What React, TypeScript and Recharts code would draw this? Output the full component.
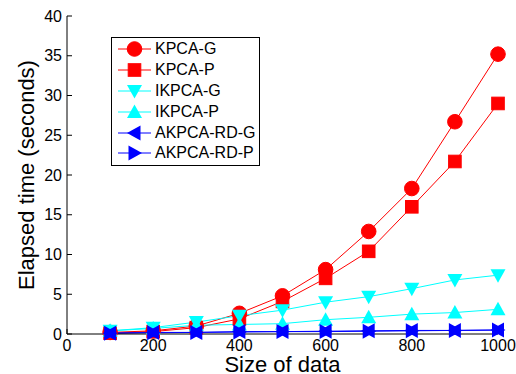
import { LineChart, Line, XAxis, YAxis, Legend } from 'recharts';

const sizes = [100, 200, 300, 400, 500, 600, 700, 800, 900, 1000];
const kpcaG = [0.2, 0.4, 1.0, 2.6, 4.8, 8.1, 12.9, 18.3, 26.7, 35.2];
const kpcaP = [0.1, 0.3, 0.8, 1.9, 4.1, 7.0, 10.4, 16.0, 21.7, 29.0];
const ikpcaG = [0.4, 0.8, 1.5, 2.3, 3.0, 4.0, 4.7, 5.7, 6.8, 7.4];
const ikpcaP = [0.4, 0.7, 1.1, 1.2, 1.3, 1.8, 2.1, 2.5, 2.7, 3.1];
const akpcaG = [0.1, 0.2, 0.2, 0.3, 0.3, 0.35, 0.4, 0.45, 0.45, 0.5];
const akpcaP = [0.1, 0.15, 0.2, 0.25, 0.3, 0.3, 0.35, 0.4, 0.45, 0.5];

const xTicks = [0, 200, 400, 600, 800, 1000];
const yTicks = [0, 5, 10, 15, 20, 25, 30, 35, 40];

const FONT = '"Liberation Sans", Arial, sans-serif';

type Shape = 'circle' | 'square' | 'down' | 'up' | 'left' | 'right';

const series: { key: string; name: string; color: string; shape: Shape }[] = [
  { key: 'kpcaG', name: 'KPCA-G', color: '#ff0000', shape: 'circle' },
  { key: 'kpcaP', name: 'KPCA-P', color: '#ff0000', shape: 'square' },
  { key: 'ikpcaG', name: 'IKPCA-G', color: '#00ffff', shape: 'down' },
  { key: 'ikpcaP', name: 'IKPCA-P', color: '#00ffff', shape: 'up' },
  { key: 'akpcaG', name: 'AKPCA-RD-G', color: '#0000ff', shape: 'left' },
  { key: 'akpcaP', name: 'AKPCA-RD-P', color: '#0000ff', shape: 'right' },
];

const data = sizes.map((n, i) => ({
  n,
  kpcaG: kpcaG[i],
  kpcaP: kpcaP[i],
  ikpcaG: ikpcaG[i],
  ikpcaP: ikpcaP[i],
  akpcaG: akpcaG[i],
  akpcaP: akpcaP[i],
}));

const Marker = ({ cx, cy, shape, color }: { cx: number; cy: number; shape: Shape; color: string }) => {
  if (cx == null || cy == null) return null;
  const s = 7.5;
  switch (shape) {
    case 'circle':
      return <circle cx={cx} cy={cy} r={7.3} fill={color} stroke={color} />;
    case 'square':
      return <rect x={cx - 6.3} y={cy - 6.3} width={12.6} height={12.6} fill={color} stroke={color} />;
    case 'down':
      return <path d={`M${cx - s},${cy - s * 0.8}L${cx + s},${cy - s * 0.8}L${cx},${cy + s}Z`} fill={color} />;
    case 'up':
      return <path d={`M${cx - s},${cy + s * 0.8}L${cx + s},${cy + s * 0.8}L${cx},${cy - s}Z`} fill={color} />;
    case 'left':
      return <path d={`M${cx + s * 0.8},${cy - s}L${cx + s * 0.8},${cy + s}L${cx - s},${cy}Z`} fill={color} />;
    default:
      return <path d={`M${cx - s * 0.8},${cy - s}L${cx - s * 0.8},${cy + s}L${cx + s},${cy}Z`} fill={color} />;
  }
};

const LegendBox = () => (
  <div
    style={{
      width: 147,
      height: 125,
      border: '1.5px solid #000',
      background: '#fff',
      padding: '1px 0',
      boxSizing: 'content-box',
    }}
  >
    {series.map((s) => (
      <div key={s.key} style={{ display: 'flex', alignItems: 'center', height: 20.8 }}>
        <svg width={37} height={20} style={{ flex: 'none', marginLeft: 6 }}>
          <line x1={0} y1={10} x2={33} y2={10} stroke={s.color} strokeWidth={1} />
          <Marker cx={16.5} cy={10} shape={s.shape} color={s.color} />
        </svg>
        <span style={{ fontFamily: FONT, fontSize: 16, color: '#000', whiteSpace: 'nowrap' }}>{s.name}</span>
      </div>
    ))}
  </div>
);

export default function App() {
  return (
    <div style={{ position: 'absolute', left: 0, top: 0, background: '#fff' }}>
      <LineChart width={516} height={374} data={data} margin={{ top: 16, right: 18, bottom: 0, left: 0 }}>
        <XAxis
          dataKey="n"
          type="number"
          domain={[0, 1000]}
          ticks={xTicks}
          height={40}
          tickSize={-5}
          tickMargin={11}
          axisLine={{ stroke: '#000' }}
          tickLine={{ stroke: '#000' }}
          tick={{ fill: '#000', fontSize: 16, fontFamily: FONT }}
          label={{ value: 'Size of data', position: 'insideBottom', offset: 2, fill: '#000', fontSize: 22, fontFamily: FONT }}
        />
        <XAxis
          xAxisId="top"
          orientation="top"
          type="number"
          domain={[0, 1000]}
          ticks={xTicks}
          height={0}
          tickSize={-5}
          tickFormatter={() => ''}
          axisLine={{ stroke: '#000' }}
          tickLine={{ stroke: '#000' }}
        />
        <YAxis
          type="number"
          domain={[0, 40]}
          ticks={yTicks}
          width={67}
          tickSize={-5}
          tickMargin={10}
          axisLine={{ stroke: '#000' }}
          tickLine={{ stroke: '#000' }}
          tick={{ fill: '#000', fontSize: 16, fontFamily: FONT }}
          label={{ value: 'Elapsed time (seconds)', angle: -90, position: 'center', dx: -7, fill: '#000', fontSize: 22, fontFamily: FONT }}
        />
        <YAxis
          yAxisId="right"
          orientation="right"
          type="number"
          domain={[0, 40]}
          ticks={yTicks}
          width={0}
          tickSize={-5}
          tickFormatter={() => ''}
          axisLine={{ stroke: '#000' }}
          tickLine={{ stroke: '#000' }}
        />
        <Legend
          layout="vertical"
          align="center"
          verticalAlign="middle"
          content={() => <LegendBox />}
          wrapperStyle={{ left: 111, top: 37, width: 150, height: 128 }}
        />
        {series.map((s) => (
          <Line
            key={s.key}
            dataKey={s.key}
            name={s.name}
            stroke={s.color}
            strokeWidth={1}
            isAnimationActive={false}
            dot={(p: any) => <Marker key={`${s.key}-${p.index}`} cx={p.cx} cy={p.cy} shape={s.shape} color={s.color} />}
            activeDot={false}
          />
        ))}
      </LineChart>
    </div>
  );
}
